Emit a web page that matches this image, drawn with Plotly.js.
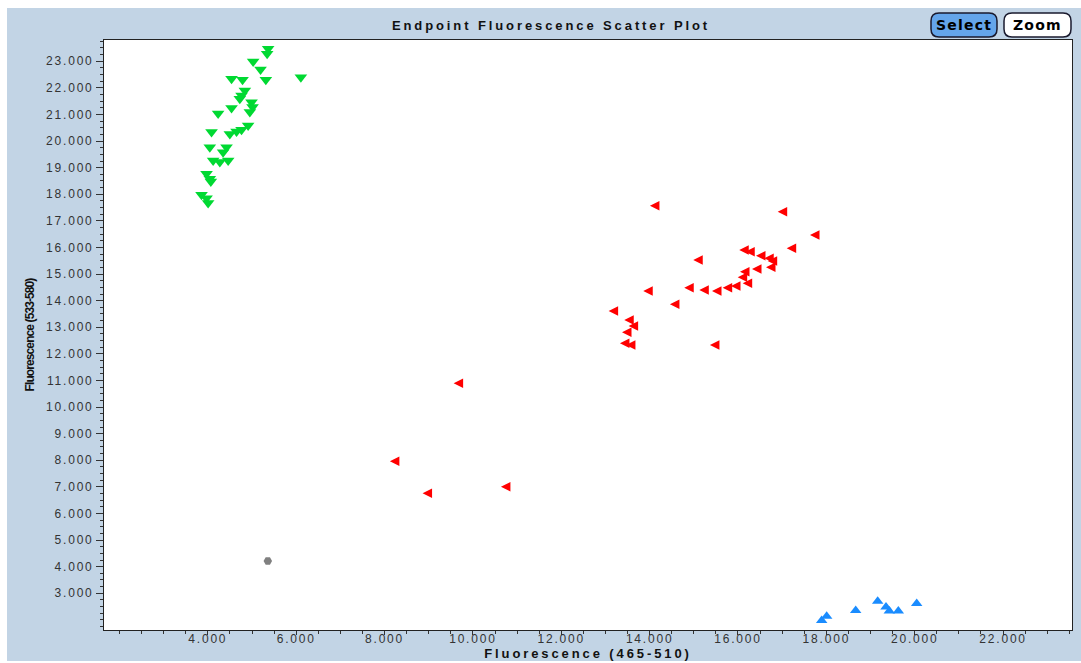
<!DOCTYPE html>
<html>
<head>
<meta charset="utf-8">
<script src="https://cdn.plot.ly/plotly-3.0.1.min.js"></script>
<style>
  html, body { margin: 0; padding: 0; background: #ffffff; }
  #chart { width: 1081px; height: 663px; }
  g.xtick text, g.ytick text { letter-spacing: 1.8px; }
  .gtitle, .xtitle { letter-spacing: 2.9px; }
  .ytitle { letter-spacing: -0.9px; }
  .annotation-text { letter-spacing: 1.2px; }
</style>
</head>
<body>
<div id="chart"></div>
<script>
// ---- data ----
const greenX = [5365, 5343, 5026, 5193, 4537, 4786, 5313, 6106, 4838, 4763, 4724, 4989, 5012, 4537, 4951, 4233, 4912,
                4763, 4650, 4498, 4084, 4045, 4423, 4346, 4120, 4272, 4460, 3971, 4045, 4068, 3857, 3971, 4007];
const greenY = [23470, 23280, 22990, 22690, 22340, 22310, 22310, 22400, 21900, 21710, 21590, 21460, 21280, 21240, 21090, 21040, 20590,
                20430, 20360, 20270, 20340, 19770, 19770, 19580, 19270, 19210, 19270, 18770, 18580, 18480, 17980, 17850, 17670];

const redX = [14007, 16899, 17630, 17102, 16029, 16165, 16407, 16595, 16672, 14988, 16634, 16317, 16045, 15993, 16106, 15841, 15653,
              14784, 15124, 15411, 13856, 14460, 13072, 13426, 13525, 13374, 13328, 13464, 15365, 9563, 8121, 10634, 8861];
const redY = [17572, 17346, 16470, 15970, 15906, 15842, 15692, 15594, 15493, 15530, 15256, 15192, 15090, 14880, 14654, 14553, 14489,
              14489, 14402, 14365, 14365, 13865, 13613, 13274, 13049, 12812, 12399, 12335, 12335, 10895, 7962, 7008, 6759];

const blueX = [17894, 18007, 18664, 19162, 19350, 19425, 19629, 20045];
const blueY = [1980, 2140, 2350, 2700, 2480, 2330, 2330, 2620];

const grayX = [5358];
const grayY = [4214];

const xTickVals = [4000, 6000, 8000, 10000, 12000, 14000, 16000, 18000, 20000, 22000];
const xTickText = ['4.000', '6.000', '8.000', '10.000', '12.000', '14.000', '16.000', '18.000', '20.000', '22.000'];
const yTickVals = [3000, 4000, 5000, 6000, 7000, 8000, 9000, 10000, 11000, 12000, 13000,
                   14000, 15000, 16000, 17000, 18000, 19000, 20000, 21000, 22000, 23000];
const yTickText = ['3.000', '4.000', '5.000', '6.000', '7.000', '8.000', '9.000', '10.000', '11.000', '12.000', '13.000',
                   '14.000', '15.000', '16.000', '17.000', '18.000', '19.000', '20.000', '21.000', '22.000', '23.000'];

const chartTitle = 'Endpoint Fluorescence Scatter Plot';
const xTitle = 'Fluorescence (465-510)';
const yTitle = 'Fluorescence (533-580)';
const buttonLabels = ['Select', 'Zoom'];

// ---- layout helpers (pixel geometry -> paper coords) ----
const W = 1081, H = 663;
const M = { l: 104, r: 9, t: 40, b: 33 };
const PW = W - M.l - M.r, PH = H - M.t - M.b;
const px = x => (x - M.l) / PW;
const py = y => (H - M.b - y) / PH;

function roundRect(x0, y0, x1, y1, r) {
  const rx = r / PW, ry = r / PH;
  const X0 = px(x0), X1 = px(x1), Ytop = py(y0), Ybot = py(y1);
  return 'M' + (X0 + rx) + ',' + Ytop +
    ' L' + (X1 - rx) + ',' + Ytop +
    ' Q' + X1 + ',' + Ytop + ' ' + X1 + ',' + (Ytop - ry) +
    ' L' + X1 + ',' + (Ybot + ry) +
    ' Q' + X1 + ',' + Ybot + ' ' + (X1 - rx) + ',' + Ybot +
    ' L' + (X0 + rx) + ',' + Ybot +
    ' Q' + X0 + ',' + Ybot + ' ' + X0 + ',' + (Ybot + ry) +
    ' L' + X0 + ',' + (Ytop - ry) +
    ' Q' + X0 + ',' + Ytop + ' ' + (X0 + rx) + ',' + Ytop + ' Z';
}

const traces = [
  { type: 'scatter', mode: 'markers', x: greenX, y: greenY, name: 'Allele 2',
    marker: { symbol: 'triangle-down', size: 11, color: '#00d932', line: { width: 0 } } },
  { type: 'scatter', mode: 'markers', x: redX, y: redY, name: 'Allele 1',
    marker: { symbol: 'arrow-left', size: 9.5, color: '#ff0000', line: { width: 0 } } },
  { type: 'scatter', mode: 'markers', x: blueX, y: blueY, name: 'Heterozygote',
    marker: { symbol: 'triangle-up', size: 10, color: '#1a8cff', line: { width: 0 } } },
  { type: 'scatter', mode: 'markers', x: grayX, y: grayY, name: 'Negative',
    marker: { symbol: 'hexagon2', size: 8.5, color: '#808080', line: { width: 0 } } }
];

const axisFont = { family: 'Liberation Sans, Arial, sans-serif', size: 12, color: '#333333' };

const layout = {
  width: W, height: H,
  margin: M,
  paper_bgcolor: '#ffffff',
  plot_bgcolor: '#ffffff',
  showlegend: false,
  hovermode: false,
  title: {
    text: chartTitle,
    xref: 'container', x: 551 / W, xanchor: 'center',
    yref: 'container', y: 1 - 25 / H, yanchor: 'middle',
    font: { family: 'Liberation Sans, Arial, sans-serif', size: 13, weight: 'bold', color: '#111111' }
  },
  xaxis: {
    range: [1650, 23560],
    tickmode: 'array', tickvals: xTickVals, ticktext: xTickText,
    ticks: 'outside', ticklen: 4, tickwidth: 1, tickcolor: '#333333',
    ticklabelstandoff: -6,
    tickfont: axisFont,
    minor: { tickmode: 'linear', tick0: 0, dtick: 500, ticks: 'outside', ticklen: 3, tickcolor: '#333333', showgrid: false },
    showline: true, linecolor: '#222222', linewidth: 1, mirror: true,
    showgrid: false, zeroline: false,
    title: { text: xTitle, standoff: 1,
      font: { family: 'Liberation Sans, Arial, sans-serif', size: 13, weight: 'bold', color: '#111111' } }
  },
  yaxis: {
    range: [1620, 23800],
    tickmode: 'array', tickvals: yTickVals, ticktext: yTickText,
    ticks: 'outside', ticklen: 7, tickwidth: 1, tickcolor: '#333333',
    tickfont: axisFont,
    minor: { tickmode: 'linear', tick0: 0, dtick: 250, ticks: 'outside', ticklen: 3, tickcolor: '#333333', showgrid: false },
    showline: true, linecolor: '#222222', linewidth: 1, mirror: true,
    showgrid: false, zeroline: false,
    title: { text: yTitle, standoff: 8,
      font: { family: 'Liberation Sans, Arial, sans-serif', size: 12, weight: 'bold', color: '#111111' } }
  },
  shapes: [
    { type: 'rect', xref: 'paper', yref: 'paper', layer: 'below',
      x0: px(7), x1: px(1081), y0: py(661), y1: py(8),
      fillcolor: '#c2d4e5', line: { width: 0 } },
    { type: 'rect', xref: 'paper', yref: 'paper', layer: 'below',
      x0: 0, x1: 1, y0: 0, y1: 1, fillcolor: '#ffffff', line: { width: 0 } },
    { type: 'path', xref: 'paper', yref: 'paper', layer: 'above',
      path: roundRect(931, 13, 997, 37, 8), fillcolor: '#64a5ea', line: { color: '#1a1a2e', width: 1.5 } },
    { type: 'path', xref: 'paper', yref: 'paper', layer: 'above',
      path: roundRect(1004, 13, 1071, 37, 8), fillcolor: '#ffffff', line: { color: '#1a1a2e', width: 1.5 } }
  ],
  annotations: [
    { xref: 'paper', yref: 'paper', x: px(964), y: py(25), xanchor: 'center', yanchor: 'middle', showarrow: false,
      text: buttonLabels[0], font: { family: 'DejaVu Sans, sans-serif', size: 14, weight: 'bold', color: '#000000' } },
    { xref: 'paper', yref: 'paper', x: px(1037.5), y: py(25), xanchor: 'center', yanchor: 'middle', showarrow: false,
      text: buttonLabels[1], font: { family: 'DejaVu Sans, sans-serif', size: 14, weight: 'bold', color: '#000000' } }
  ]
};

Plotly.newPlot('chart', traces, layout, { displayModeBar: false, staticPlot: true });
</script>
</body>
</html>
